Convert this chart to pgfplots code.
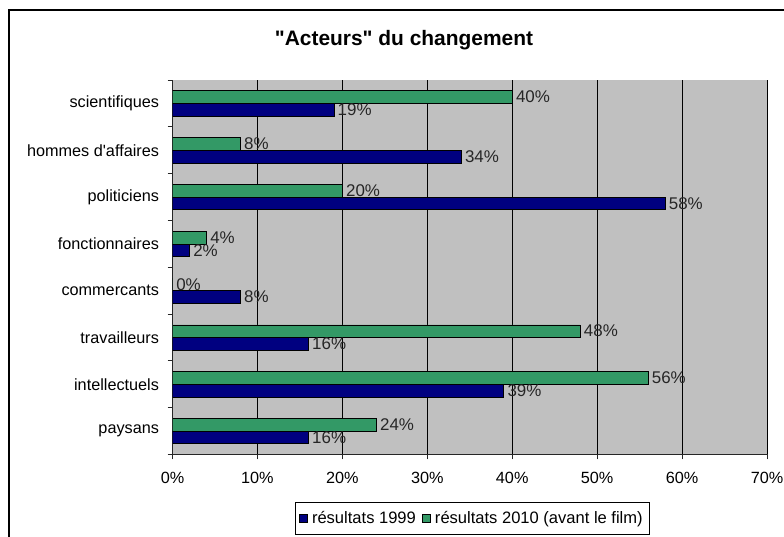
\documentclass[border=0pt]{standalone}
\usepackage{pgfplots}
\pgfplotsset{compat=1.18}
\usepackage{fontspec}
\setmainfont{Liberation Sans}[Ligatures=TeXOff]
\definecolor{navyb}{HTML}{000080}
\definecolor{seag}{HTML}{339966}
\definecolor{plotgray}{HTML}{C0C0C0}
\begin{document}
\begin{tikzpicture}[x=1bp,y=1bp]
\useasboundingbox (0,0) rectangle (784,537);
\fill[white] (0,0) rectangle (784,537);
\draw[black, line width=1.2bp] (9,-5) -- (9,527) -- (790,527);
\node[font=\bfseries\fontsize{21}{24}\selectfont] at (404,497) {"Acteurs" du changement};
\begin{axis}[
  at={(172.5bp,82.5bp)}, anchor=south west,
  scale only axis, width=594.5bp, height=374.5bp,
  xmin=0, xmax=70, ymin=0.5, ymax=8.5,
  axis background/.style={fill=plotgray},
  axis x line*=bottom, axis y line*=left,
  axis line style={-, draw=black!85, line width=0.8bp},
  xbar, bar width=0.27,
  xtick={0,10,...,70},
  xticklabel={\pgfmathprintnumber{\tick}\%},
  xticklabel style={yshift=-9bp},
  ytick={0.5,1.5,...,8.5},
  yticklabels={paysans,intellectuels,travailleurs,commercants,fonctionnaires,politiciens,hommes d'affaires,scientifiques,{}},
  yticklabel style={yshift=23.4bp, xshift=-5bp},
  tick align=outside, major tick length=5bp,
  tick style={draw=black!85, line width=0.8bp},
  xmajorgrids, grid style={draw=black, line width=0.8bp},
  ticklabel style={font=\fontsize{16.3}{18}\selectfont},
  /pgf/number format/assume math mode=true,
  point meta=x,
  nodes near coords={\pgfmathprintnumber{\pgfplotspointmeta}\%},
  nodes near coords style={font=\fontsize{17}{19}\selectfont, anchor=west, inner sep=3.5bp, text=black!85},
  legend style={at={(0.5035,-0.127)}, anchor=north, legend columns=2, draw=black, fill=white,
    font=\fontsize{16.6}{19}\selectfont, inner ysep=7bp, inner xsep=4bp,
    /tikz/every odd column/.append style={column sep=2.5bp},
    /tikz/every even column/.append style={column sep=4bp}},
  legend image code/.code={\draw[#1, draw=black, line width=0.6bp] (0bp,-4bp) rectangle (8bp,4bp);},
]
\addplot[fill=navyb, draw=black, line width=0.6bp, bar shift=-0.135] coordinates {
(16,1) (39,2) (16,3) (8,4) (2,5) (58,6) (34,7) (19,8)};
\addlegendentry{résultats 1999}
\addplot[fill=seag, draw=black, line width=0.6bp, bar shift=0.135] coordinates {
(24,1) (56,2) (48,3) (0,4) (4,5) (20,6) (8,7) (40,8)};
\addlegendentry{résultats 2010 (avant le film)}
\end{axis}
\end{tikzpicture}
\end{document}
